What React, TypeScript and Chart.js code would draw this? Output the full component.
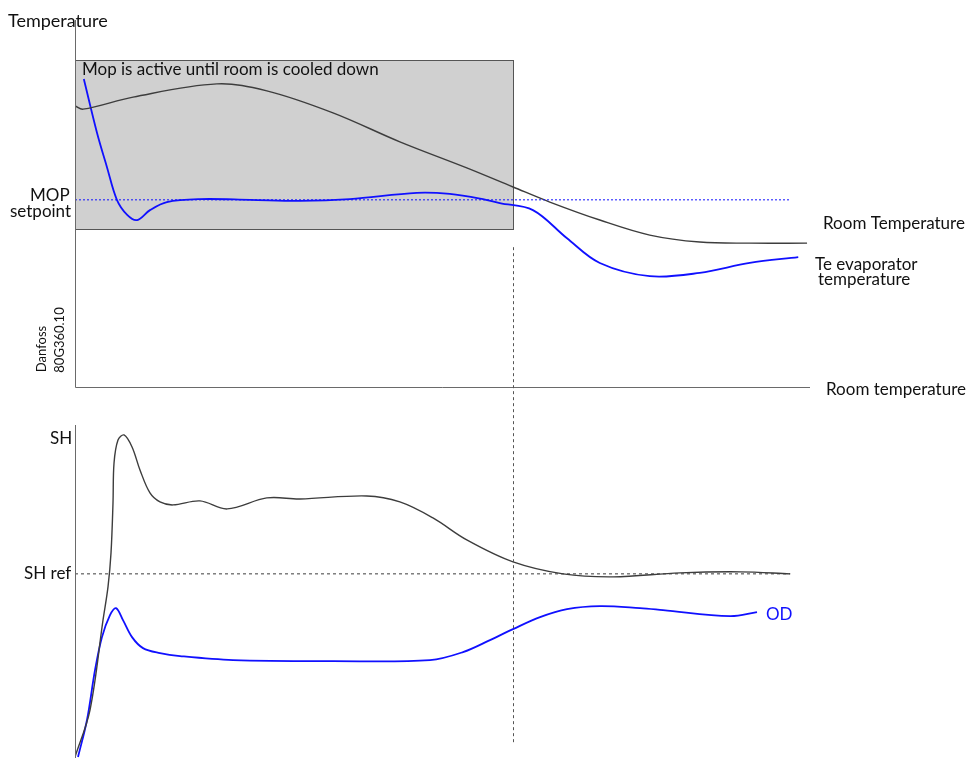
import { useEffect, useRef } from "react";
import { Chart, registerables } from "chart.js";

Chart.register(...registerables);

// ---------------- data (arbitrary schematic units, time 0..100) ----------------
// Upper panel: temperature (0 = bottom axis, 100 = top of axis)
const roomTempTime = [0, 1.1, 7.9, 19.3, 26.1, 35.1, 44.2, 53.3, 59.6, 64.6, 71.4, 78.2, 85.0, 91.8, 99.6];
const roomTempValue = [76.6, 75.7, 79.0, 82.6, 80.7, 74.7, 66.8, 59.7, 54.5, 50.4, 45.5, 41.4, 39.5, 39.2, 39.2];

const teTime = [1.2, 3.0, 4.35, 5.7, 7.1, 8.45, 10.2, 12.5, 17.0, 23.8, 30.6, 37.4, 46.5, 51.0, 55.5, 57.8, 62.3, 66.9, 71.4, 78.2, 85.0, 91.8, 98.4];
const teValue = [83.9, 69.2, 59.9, 51.0, 46.9, 45.5, 48.2, 50.4, 51.2, 51.0, 50.7, 51.2, 52.9, 52.6, 51.2, 50.1, 48.2, 40.6, 33.8, 30.2, 31.1, 33.8, 35.4];

const mopSetpoint = 51.0;
const mopLineTime = [0, 97.3];
const mopBoxTime = [0, 59.6];
const mopBoxValue = [43.05, 89.1];

// Lower panel: superheat (0 = bottom, 100 = top of axis)
const shTime = [0, 2.04, 3.81, 4.49, 4.9, 5.17, 5.31, 5.85, 6.67, 7.76, 8.84, 10.2, 11.56, 13.33, 17.0, 20.7, 26.1, 30.6, 39.7, 44.2, 48.7, 53.3, 59.6, 66.4, 73.2, 82.3, 90.5, 97.3];
const shValue = [0.3, 14.4, 41.4, 51.4, 61.6, 76.6, 88.6, 95.5, 97.0, 93.4, 86.5, 79.6, 76.9, 76.0, 77.2, 74.8, 78.1, 77.8, 78.7, 76.9, 72.1, 65.5, 58.9, 55.3, 54.4, 55.6, 55.9, 55.3];

const odTime = [0.41, 1.63, 2.72, 3.67, 4.76, 5.58, 6.53, 7.76, 9.25, 11.56, 14.29, 21.5, 35.1, 48.3, 52.79, 56.46, 59.59, 63.27, 66.94, 71.43, 76.87, 80.0, 89.12, 92.79];
const odValue = [0.3, 11.4, 26.4, 36.3, 42.9, 45.0, 41.4, 36.3, 33.0, 31.5, 30.6, 29.4, 29.1, 29.4, 31.8, 35.4, 38.7, 42.3, 44.7, 45.6, 45.0, 44.4, 42.6, 43.8];

const shRef = 55.3;
const shRefTime = [0, 97.3];

const cutoverTime = 59.6; // room cooled down
const cutoverTopValue = 38.1; // upper panel value where the marker starts
const cutoverBottomValue = 4.5; // lower panel value where it ends

// ---------------- layout ----------------
const W = 971;
const H = 758;
const PLOT_LEFT = 75;
const PLOT_RIGHT = 810;
const TOP_AXIS_TOP = 20;
const TOP_AXIS_BASE = 387;
const BOT_AXIS_TOP = 425;
const BOT_AXIS_BASE = H;

const topPPU = (TOP_AXIS_BASE - TOP_AXIS_TOP) / 100;
const botPPU = (BOT_AXIS_BASE - BOT_AXIS_TOP) / 100;

const DARK = "#3d3d3d";
const BLUE = "#1010ff";
const AXIS = "#6a6a6a";
const FONT = "Lato, 'Open Sans', sans-serif";

const pts = (xs: number[], ys: number[]) => xs.map((x, i) => ({ x, y: ys[i] }));

type Label = { text: string; x: number; y: number; size: number; color?: string; rotate?: boolean; align?: CanvasTextAlign };
const LABELS: Label[] = [
  { text: "Temperature", x: 8, y: 21, size: 18 },
  { text: "Mop is active until room is cooled down", x: 82, y: 70, size: 17 },
  { text: "MOP", x: 30, y: 196, size: 17 },
  { text: "setpoint", x: 10, y: 212, size: 17 },
  { text: "Room Temperature", x: 823, y: 224, size: 17 },
  { text: "Te evaporator", x: 815, y: 265, size: 17 },
  { text: "temperature", x: 818, y: 280, size: 17 },
  { text: "Room temperature", x: 826, y: 390, size: 17 },
  { text: "SH", x: 50, y: 439, size: 17 },
  { text: "SH ref", x: 24, y: 574, size: 17 },
  { text: "OD", x: 766, y: 615, size: 17, color: BLUE },
  { text: "Danfoss", x: 42, y: 349, size: 13, rotate: true },
  { text: "80G360.10", x: 60, y: 340, size: 13, rotate: true },
];

const overlay = {
  id: "schematicOverlay",
  beforeDatasetsDraw(chart: any) {
    const { ctx, scales } = chart;
    const x = scales.x, yT = scales.yT;
    const x0 = x.getPixelForValue(mopBoxTime[0]);
    const x1 = x.getPixelForValue(mopBoxTime[1]);
    const y0 = yT.getPixelForValue(mopBoxValue[1]);
    const y1 = yT.getPixelForValue(mopBoxValue[0]);
    ctx.save();
    ctx.fillStyle = "#d0d0d0";
    ctx.fillRect(x0, y0, x1 - x0, y1 - y0);
    ctx.strokeStyle = "#555";
    ctx.lineWidth = 1;
    ctx.strokeRect(Math.round(x0) + 0.5, Math.round(y0) + 0.5, Math.round(x1 - x0), Math.round(y1 - y0));
    ctx.restore();
  },
  afterDatasetsDraw(chart: any) {
    const { ctx, scales } = chart;
    const x = scales.x, yT = scales.yT, yB = scales.yB;
    const px = (v: number) => Math.round(x.getPixelForValue(v)) + 0.5;
    ctx.save();
    ctx.strokeStyle = AXIS;
    ctx.lineWidth = 1;
    ctx.beginPath();
    // upper panel axes
    ctx.moveTo(px(0), yT.getPixelForValue(100));
    ctx.lineTo(px(0), Math.round(yT.getPixelForValue(0)) + 0.5);
    ctx.lineTo(x.getPixelForValue(100), Math.round(yT.getPixelForValue(0)) + 0.5);
    // lower panel axis
    ctx.moveTo(px(0), yB.getPixelForValue(100));
    ctx.lineTo(px(0), yB.getPixelForValue(0));
    ctx.stroke();

    // cut-over marker
    ctx.strokeStyle = "#555";
    ctx.setLineDash([3, 3]);
    ctx.beginPath();
    ctx.moveTo(px(cutoverTime), yT.getPixelForValue(cutoverTopValue));
    ctx.lineTo(px(cutoverTime), yB.getPixelForValue(cutoverBottomValue));
    ctx.stroke();
    ctx.setLineDash([]);

    // labels
    ctx.textBaseline = "middle";
    for (const l of LABELS) {
      ctx.font = `${l.size}px ${FONT}`;
      ctx.fillStyle = l.color || "#111";
      ctx.textAlign = l.align || "left";
      if (l.rotate) {
        ctx.save();
        ctx.translate(l.x, l.y);
        ctx.rotate(-Math.PI / 2);
        ctx.textAlign = "center";
        ctx.fillText(l.text, 0, 0);
        ctx.restore();
      } else {
        ctx.fillText(l.text, l.x, l.y);
      }
    }
    ctx.restore();
  },
};

export default function App() {
  const ref = useRef<HTMLCanvasElement | null>(null);
  useEffect(() => {
    if (!ref.current) return;
    const line = (data: any[], axis: string, color: string, width: number, dash?: number[], smooth = true) => ({
      data,
      yAxisID: axis,
      borderColor: color,
      borderWidth: width,
      borderDash: dash || [],
      pointRadius: 0,
      fill: false,
      cubicInterpolationMode: "default" as const,
      tension: smooth ? 0.35 : 0,
    });
    const chart = new Chart(ref.current, {
      type: "line",
      data: {
        datasets: [
          line(pts(mopLineTime, mopLineTime.map(() => mopSetpoint)), "yT", BLUE, 1, [2, 2], false),
          line(pts(roomTempTime, roomTempValue), "yT", DARK, 1.4),
          line(pts(teTime, teValue), "yT", BLUE, 1.8),
          line(pts(shRefTime, shRefTime.map(() => shRef)), "yB", DARK, 1, [3, 3], false),
          line(pts(shTime, shValue), "yB", DARK, 1.4),
          line(pts(odTime, odValue), "yB", BLUE, 1.8),
        ],
      },
      options: {
        animation: false,
        responsive: false,
        layout: { padding: { left: PLOT_LEFT, right: W - PLOT_RIGHT, top: 0, bottom: 0 } },
        plugins: { legend: { display: false }, tooltip: { enabled: false } },
        events: [],
        scales: {
          x: { type: "linear", min: 0, max: 100, display: false, bounds: "data" },
          yT: {
            type: "linear",
            display: false,
            bounds: "data",
            min: -(H - TOP_AXIS_BASE) / topPPU,
            max: TOP_AXIS_BASE / topPPU,
          },
          yB: {
            type: "linear",
            display: false,
            bounds: "data",
            min: -(H - BOT_AXIS_BASE) / botPPU,
            max: BOT_AXIS_BASE / botPPU,
          },
        },
      },
      plugins: [overlay],
    });
    return () => chart.destroy();
  }, []);
  return (
    <div style={{ position: "absolute", left: 0, top: 0, width: W, height: H, background: "#fff" }}>
      <canvas ref={ref} width={W} height={H} style={{ display: "block" }} />
    </div>
  );
}
